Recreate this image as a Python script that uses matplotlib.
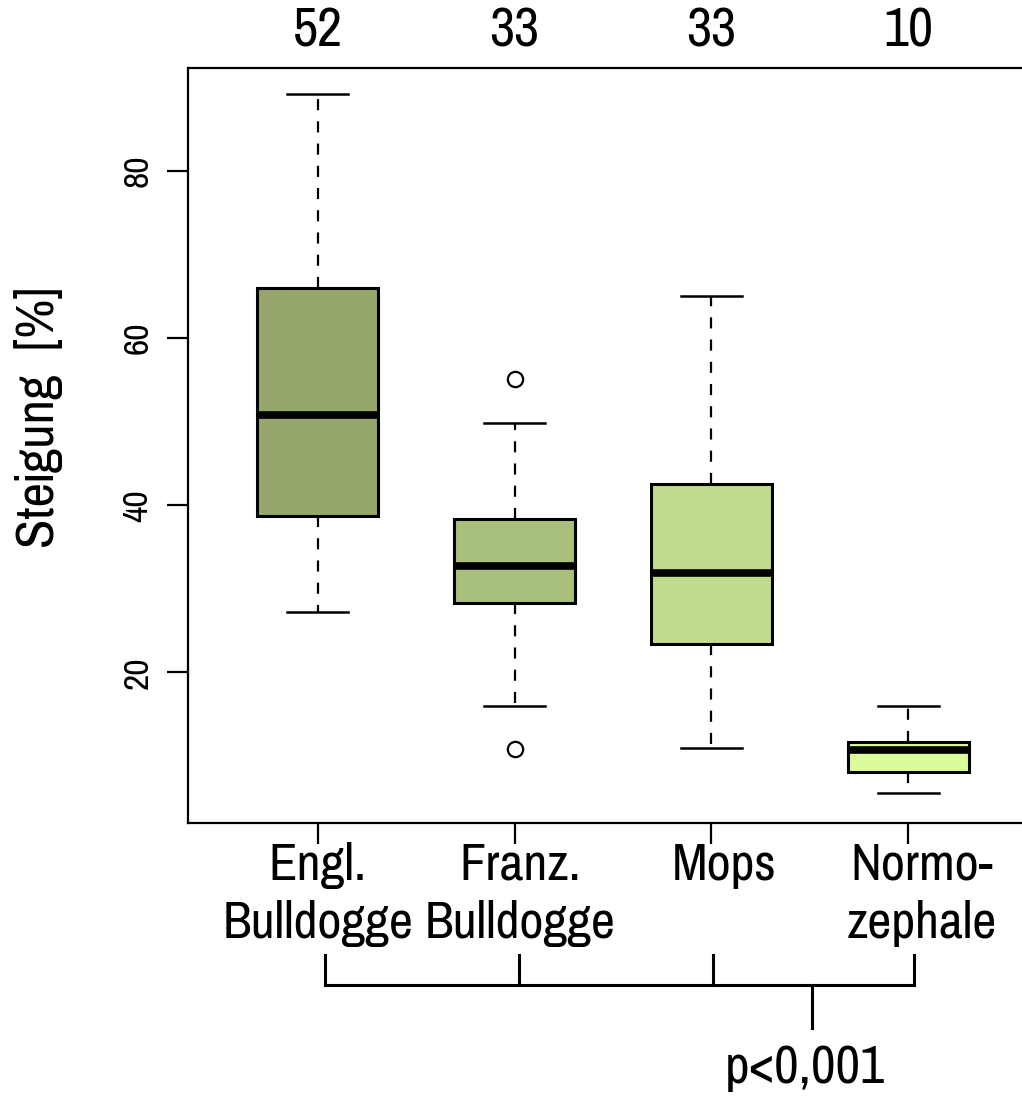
import matplotlib
matplotlib.use("Agg")
import matplotlib.pyplot as plt
from matplotlib import font_manager

# narrow sans like Arial Narrow, first one that is installed
names = {f.name for f in font_manager.fontManager.ttflist}
prefer = ["Liberation Sans Narrow", "Pragati Narrow", "Archivo Narrow",
          "Roboto Condensed", "PT Sans Narrow", "Liberation Sans"]
font = next(n for n in prefer if n in names)
plt.rcParams['font.family'] = [font, 'DejaVu Sans']

# data
groups = ["Engl.\nBulldogge", "Franz.\nBulldogge", "Mops", "Normo-\nzephale"]
counts = [52, 33, 33, 10]
whislo = [27.2, 16.0, 10.9, 5.5]
q1 = [38.7, 28.3, 23.4, 8.1]
med = [50.8, 32.7, 31.9, 10.7]
q3 = [66.0, 38.3, 42.5, 11.6]
whishi = [89.2, 49.8, 65.0, 16.0]
fliers = [[], [55.1, 10.8], [], []]
colors = ["#94A66B", "#A9C07C", "#C0DA8E", "#DCFC9C"]

W, H = 1022, 1101
fig = plt.figure(figsize=(W / 100, H / 100), dpi=100)
# axes: left 188px, top 68px, bottom 823px; right edge runs off the canvas
ax = fig.add_axes([188 / W, (H - 823) / H, (1038 - 188) / W, (823 - 68) / H])

stats = []
for i in range(len(groups)):
    stats.append(dict(whislo=whislo[i], q1=q1[i], med=med[i], q3=q3[i],
                      whishi=whishi[i], fliers=fliers[i]))

bp = ax.bxp(stats, positions=[1, 2, 3, 4], widths=0.615, patch_artist=True,
            showfliers=True,
            boxprops=dict(linewidth=2.2, edgecolor="black"),
            medianprops=dict(color="black", linewidth=5.5, solid_capstyle="butt"),
            whiskerprops=dict(color="black", linewidth=1.6, linestyle=(0, (5, 5))),
            capprops=dict(color="black", linewidth=1.8),
            capwidths=0.31,
            flierprops=dict(marker="o", markersize=11, markerfacecolor="white",
                            markeredgecolor="black", markeredgewidth=1.6))
for patch, c in zip(bp["boxes"], colors):
    patch.set_facecolor(c)

ax.set_xlim(0.34, 4.66)
ax.set_ylim(1.95, 92.35)
ax.spines["right"].set_visible(False)
for s in ax.spines.values():
    s.set_linewidth(1.6)

ax.set_yticks([20, 40, 60, 80])
ax.set_yticklabels(["20", "40", "60", "80"], rotation=90, va="center", fontsize=28)
ax.set_xticks([1, 2, 3, 4])
ax.set_xticklabels([])
ax.tick_params(axis="both", length=15, width=1.6, pad=10)

# category labels below the axis
trans = ax.get_xaxis_transform()
label_x = [1.0, 2.03, 3.065, 4.07]
for x, g in zip(label_x, groups):
    ax.text(x, -0.025, g, transform=trans, ha="center", va="top", fontsize=41,
            linespacing=1.3)

# group sizes above the plot
for x, n in zip([1, 2, 3, 4], counts):
    ax.text(x, 1.048, str(n), transform=trans, ha="center", va="center", fontsize=43)

# significance bracket
yb, yt, yd = -0.2146, -0.175, -0.2715
bx = [1.036, 2.02, 3.01, 4.03]
ax.plot([bx[0], bx[-1]], [yb, yb], transform=trans, color="black", lw=2.2,
        clip_on=False, solid_capstyle="projecting")
for x in bx:
    ax.plot([x, x], [yb, yt], transform=trans, color="black", lw=2.2, clip_on=False)
ax.plot([3.51, 3.51], [yb, yd], transform=trans, color="black", lw=2.2, clip_on=False)
ax.text(3.475, -0.325, "p<0,001", transform=trans, ha="center", va="center", fontsize=42)

fig.text(39 / W, 1 - 417 / H, "Steigung  [%]", rotation=90, ha="center", va="center",
         fontsize=42)

fig.savefig("out.png", dpi=100)
